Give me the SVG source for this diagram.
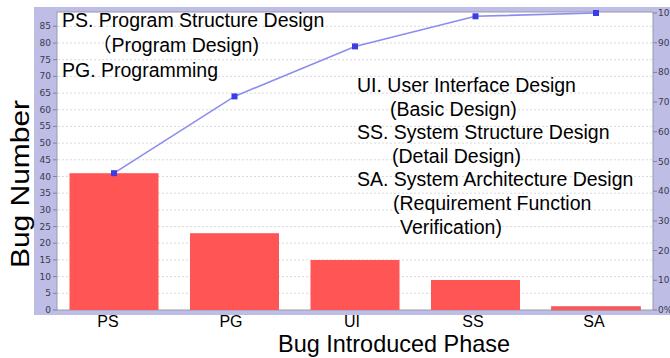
<svg xmlns="http://www.w3.org/2000/svg" width="670" height="358" viewBox="0 0 670 358">
  <style>
    .frame { fill: #bdbde6; }
    .plot { fill: #ffffff; stroke: #9a9aae; stroke-width: 1; }
    .grid { stroke: #d9d9d9; stroke-width: 1; stroke-dasharray: 2 2; }
    .tick { stroke: #8080a0; stroke-width: 1; }
    .ytl { font-family: "DejaVu Sans", sans-serif; font-size: 9px; fill: #3a3a4a; text-anchor: end; }
    .ytr { font-family: "DejaVu Sans", sans-serif; font-size: 9px; fill: #3a3a4a; text-anchor: start; }
    .bar { fill: #ff5555; }
    .cum { fill: none; stroke: #8c8cf0; stroke-width: 1.6; }
    .mk { fill: #3c3ce6; }
    .cat { font-family: "Liberation Sans", Arial, sans-serif; font-size: 16px; fill: #000; text-anchor: middle; }
    .axt { font-family: "Liberation Sans", Arial, sans-serif; fill: #000; text-anchor: middle; }
    .leg { font-family: "Liberation Sans", Arial, "Noto Sans CJK JP", sans-serif; font-size: 19.5px; fill: #000; }
  </style>

  <g id="frame">
    <rect class="frame" x="34" y="7" width="636" height="308"/>
    <rect class="plot" x="57" y="12" width="596" height="298"/>
  </g>

  <g id="grid">
    <line class="grid" x1="58" y1="293.3" x2="652" y2="293.3"/>
    <line class="grid" x1="58" y1="276.6" x2="652" y2="276.6"/>
    <line class="grid" x1="58" y1="259.9" x2="652" y2="259.9"/>
    <line class="grid" x1="58" y1="243.2" x2="652" y2="243.2"/>
    <line class="grid" x1="58" y1="226.6" x2="652" y2="226.6"/>
    <line class="grid" x1="58" y1="209.9" x2="652" y2="209.9"/>
    <line class="grid" x1="58" y1="193.2" x2="652" y2="193.2"/>
    <line class="grid" x1="58" y1="176.5" x2="652" y2="176.5"/>
    <line class="grid" x1="58" y1="159.8" x2="652" y2="159.8"/>
    <line class="grid" x1="58" y1="143.1" x2="652" y2="143.1"/>
    <line class="grid" x1="58" y1="126.4" x2="652" y2="126.4"/>
    <line class="grid" x1="58" y1="109.8" x2="652" y2="109.8"/>
    <line class="grid" x1="58" y1="93.1" x2="652" y2="93.1"/>
    <line class="grid" x1="58" y1="76.4" x2="652" y2="76.4"/>
    <line class="grid" x1="58" y1="59.7" x2="652" y2="59.7"/>
    <line class="grid" x1="58" y1="43.0" x2="652" y2="43.0"/>
    <line class="grid" x1="58" y1="26.3" x2="652" y2="26.3"/>
  </g>

  <g id="left-axis">
    <g class="tick">
      <line x1="53" y1="310" x2="57" y2="310"/><line x1="53" y1="293.3" x2="57" y2="293.3"/>
      <line x1="53" y1="276.6" x2="57" y2="276.6"/><line x1="53" y1="259.9" x2="57" y2="259.9"/>
      <line x1="53" y1="243.2" x2="57" y2="243.2"/><line x1="53" y1="226.6" x2="57" y2="226.6"/>
      <line x1="53" y1="209.9" x2="57" y2="209.9"/><line x1="53" y1="193.2" x2="57" y2="193.2"/>
      <line x1="53" y1="176.5" x2="57" y2="176.5"/><line x1="53" y1="159.8" x2="57" y2="159.8"/>
      <line x1="53" y1="143.1" x2="57" y2="143.1"/><line x1="53" y1="126.4" x2="57" y2="126.4"/>
      <line x1="53" y1="109.8" x2="57" y2="109.8"/><line x1="53" y1="93.1" x2="57" y2="93.1"/>
      <line x1="53" y1="76.4" x2="57" y2="76.4"/><line x1="53" y1="59.7" x2="57" y2="59.7"/>
      <line x1="53" y1="43.0" x2="57" y2="43.0"/><line x1="53" y1="26.3" x2="57" y2="26.3"/>
    </g>
    <text class="ytl" x="51" y="313">0</text>
    <text class="ytl" x="51" y="296.3">5</text>
    <text class="ytl" x="51" y="279.6">10</text>
    <text class="ytl" x="51" y="262.9">15</text>
    <text class="ytl" x="51" y="246.2">20</text>
    <text class="ytl" x="51" y="229.6">25</text>
    <text class="ytl" x="51" y="212.9">30</text>
    <text class="ytl" x="51" y="196.2">35</text>
    <text class="ytl" x="51" y="179.5">40</text>
    <text class="ytl" x="51" y="162.8">45</text>
    <text class="ytl" x="51" y="146.1">50</text>
    <text class="ytl" x="51" y="129.4">55</text>
    <text class="ytl" x="51" y="112.8">60</text>
    <text class="ytl" x="51" y="96.1">65</text>
    <text class="ytl" x="51" y="79.4">70</text>
    <text class="ytl" x="51" y="62.7">75</text>
    <text class="ytl" x="51" y="46.0">80</text>
    <text class="ytl" x="51" y="29.3">85</text>
  </g>

  <g id="right-axis">
    <g class="tick">
      <line x1="653" y1="310" x2="657" y2="310"/><line x1="653" y1="280.3" x2="657" y2="280.3"/>
      <line x1="653" y1="250.6" x2="657" y2="250.6"/><line x1="653" y1="220.9" x2="657" y2="220.9"/>
      <line x1="653" y1="191.2" x2="657" y2="191.2"/><line x1="653" y1="161.5" x2="657" y2="161.5"/>
      <line x1="653" y1="131.8" x2="657" y2="131.8"/><line x1="653" y1="102.1" x2="657" y2="102.1"/>
      <line x1="653" y1="72.4" x2="657" y2="72.4"/><line x1="653" y1="42.7" x2="657" y2="42.7"/>
      <line x1="653" y1="13" x2="657" y2="13"/>
    </g>
    <text class="ytr" x="658" y="313">0%</text>
    <text class="ytr" x="658" y="283.3">10</text>
    <text class="ytr" x="658" y="253.6">20</text>
    <text class="ytr" x="658" y="223.9">30</text>
    <text class="ytr" x="658" y="194.2">40</text>
    <text class="ytr" x="658" y="164.5">50</text>
    <text class="ytr" x="658" y="134.8">60</text>
    <text class="ytr" x="658" y="105.1">70</text>
    <text class="ytr" x="658" y="75.4">80</text>
    <text class="ytr" x="658" y="45.7">90</text>
    <text class="ytr" x="658" y="16">10</text>
  </g>

  <g id="bars">
    <rect class="bar" x="69.5" y="173.2" width="89" height="136.8"/>
    <rect class="bar" x="190" y="233.2" width="89" height="76.8"/>
    <rect class="bar" x="310.5" y="260" width="89" height="50"/>
    <rect class="bar" x="431" y="280" width="89" height="30"/>
    <rect class="bar" x="551.5" y="306.7" width="89" height="3.3" stroke="#e0606a" stroke-width="0.8"/>
  </g>

  <g id="cumulative">
    <polyline class="cum" points="114,173.2 234.5,96.4 355,46.4 475.5,16.3 596,13"/>
    <rect class="mk" x="111" y="170.2" width="6" height="6"/>
    <rect class="mk" x="231.5" y="93.4" width="6" height="6"/>
    <rect class="mk" x="352" y="43.4" width="6" height="6"/>
    <rect class="mk" x="472.5" y="13.3" width="6" height="6"/>
    <rect class="mk" x="593" y="10" width="6" height="6"/>
  </g>

  <g id="categories">
    <text class="cat" x="108" y="327">PS</text>
    <text class="cat" x="231" y="327">PG</text>
    <text class="cat" x="352" y="327">UI</text>
    <text class="cat" x="473" y="327">SS</text>
    <text class="cat" x="594" y="327">SA</text>
  </g>

  <g id="axis-titles">
    <text class="axt" x="394" y="352" font-size="24" textLength="232" lengthAdjust="spacingAndGlyphs">Bug Introduced Phase</text>
    <text class="axt" x="0" y="0" font-size="25" textLength="168" lengthAdjust="spacingAndGlyphs" transform="translate(29,184) rotate(-90)">Bug Number</text>
  </g>

  <g id="legend-left" class="leg">
    <text x="62" y="27">PS. Program Structure Design</text>
    <text x="92" y="52">（Program Design)</text>
    <text x="62" y="77">PG. Programming</text>
  </g>

  <g id="legend-right" class="leg">
    <text x="357" y="92">UI. User Interface Design</text>
    <text x="390" y="115.6">(Basic Design)</text>
    <text x="357" y="139.2">SS. System Structure Design</text>
    <text x="392" y="162.8">(Detail Design)</text>
    <text x="357" y="186.4">SA. System Architecture Design</text>
    <text x="393" y="210">(Requirement Function</text>
    <text x="400" y="233.6">Verification)</text>
  </g>
</svg>
